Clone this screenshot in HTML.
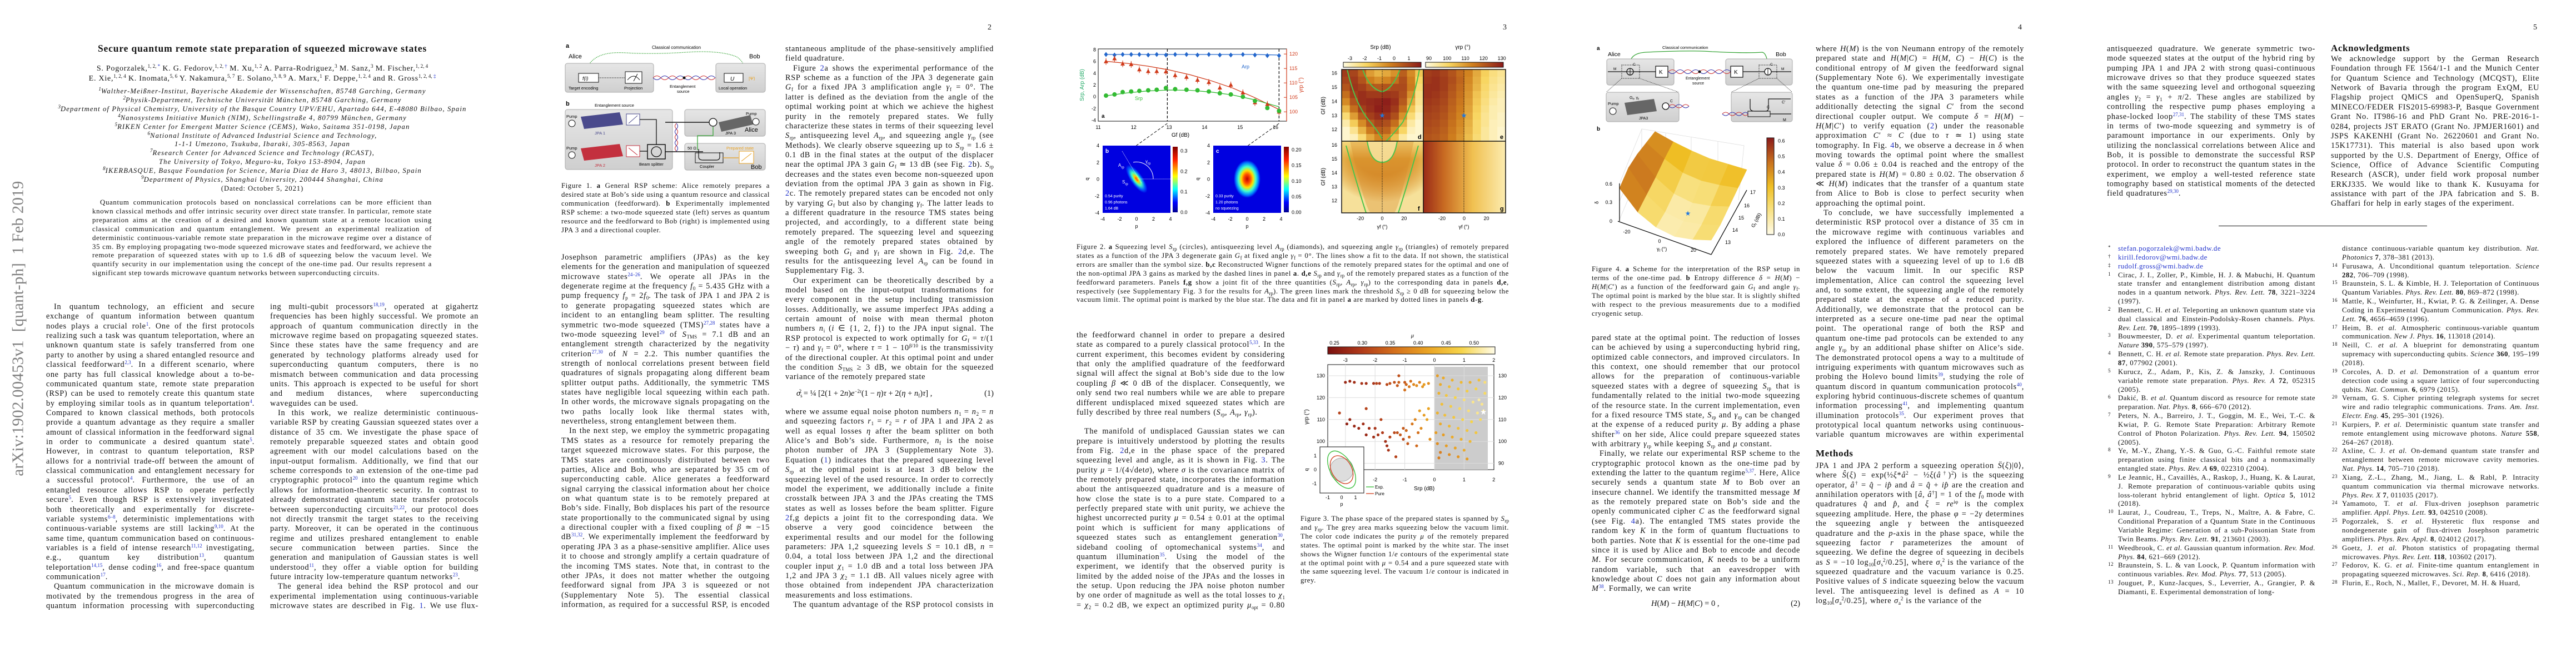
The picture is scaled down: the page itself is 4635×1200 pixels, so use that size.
<!DOCTYPE html>
<html><head><meta charset="utf-8">
<style>
html,body{margin:0;padding:0;background:#fff}
body{width:4635px;height:1200px;position:relative;overflow:hidden;font-family:"Liberation Serif",serif;color:#111}
.pg{position:absolute;top:0;width:927px;height:1200px;background:#fff}
.pn{position:absolute;left:850px;top:42px;font-size:14px}
.col{position:absolute;width:375px;font-size:14.3px;line-height:17.36px;letter-spacing:0.68px;word-spacing:0.6px;text-align:justify;overflow:hidden}
.col p{margin:0;text-indent:14px}
.col p.ni{text-indent:0}
.cap{position:absolute;font-size:12.8px;line-height:15.9px;letter-spacing:0.55px;text-align:justify;overflow:hidden}
.cap p{margin:0}
sup{font-size:9px;line-height:0;vertical-align:5px;color:#2233cc;letter-spacing:0}
sub{font-size:9px;line-height:0;vertical-align:-3px;letter-spacing:0}
.bl{color:#2233cc}
.ctr{position:absolute;left:0;width:944px;text-align:center;white-space:nowrap}
.aff{font-style:italic;font-size:12.6px;letter-spacing:1.15px;line-height:15.9px}
.refs{position:absolute;width:375px;font-size:12.8px;line-height:15.85px;letter-spacing:0.5px;text-align:justify;overflow:hidden}
.refs div{position:relative;padding-left:20px}
.refs div span.n{position:absolute;left:2px;top:-2px;font-size:9px}
svg text{font-family:"Liberation Sans",sans-serif}
</style></head>
<body>

<!-- ================= PAGE 1 ================= -->
<div class="pg" style="left:0">
  <div style="position:absolute;left:33px;top:591px;transform:translate(-50%,-50%) rotate(-90deg);white-space:nowrap;font-size:29px;color:#808080;letter-spacing:0.2px">arXiv:1902.00453v1&nbsp; [quant-ph]&nbsp; 1 Feb 2019</div>
  <div class="ctr" style="top:77px;font-weight:bold;font-size:17.5px;letter-spacing:0.85px">Secure quantum remote state preparation of squeezed microwave states</div>
  <div class="ctr" style="top:115px;font-size:14px;letter-spacing:0.75px;line-height:18px">S. Pogorzalek,<sup style="color:#111">1, 2, </sup><sup>*</sup> K. G. Fedorov,<sup style="color:#111">1, 2, </sup><sup>†</sup> M. Xu,<sup style="color:#111">1, 2</sup> A. Parra-Rodriguez,<sup style="color:#111">3</sup> M. Sanz,<sup style="color:#111">3</sup> M. Fischer,<sup style="color:#111">1, 2, 4</sup><br>E. Xie,<sup style="color:#111">1, 2, 4</sup> K. Inomata,<sup style="color:#111">5, 6</sup> Y. Nakamura,<sup style="color:#111">5, 7</sup> E. Solano,<sup style="color:#111">3, 8, 9</sup> A. Marx,<sup style="color:#111">1</sup> F. Deppe,<sup style="color:#111">1, 2, 4</sup> and R. Gross<sup style="color:#111">1, 2, 4, </sup><sup>‡</sup></div>
  <div class="ctr aff" style="top:157px">
    <sup style="color:#111">1</sup>Walther-Meißner-Institut, Bayerische Akademie der Wissenschaften, 85748 Garching, Germany<br>
    <sup style="color:#111">2</sup>Physik-Department, Technische Universität München, 85748 Garching, Germany<br>
    <sup style="color:#111">3</sup>Department of Physical Chemistry, University of the Basque Country UPV/EHU, Apartado 644, E-48080 Bilbao, Spain<br>
    <sup style="color:#111">4</sup>Nanosystems Initiative Munich (NIM), Schellingstraße 4, 80799 München, Germany<br>
    <sup style="color:#111">5</sup>RIKEN Center for Emergent Matter Science (CEMS), Wako, Saitama 351-0198, Japan<br>
    <sup style="color:#111">6</sup>National Institute of Advanced Industrial Science and Technology,<br>
    1-1-1 Umezono, Tsukuba, Ibaraki, 305-8563, Japan<br>
    <sup style="color:#111">7</sup>Research Center for Advanced Science and Technology (RCAST),<br>
    The University of Tokyo, Meguro-ku, Tokyo 153-8904, Japan<br>
    <sup style="color:#111">8</sup>IKERBASQUE, Basque Foundation for Science, Maria Diaz de Haro 3, 48013, Bilbao, Spain<br>
    <sup style="color:#111">9</sup>Department of Physics, Shanghai University, 200444 Shanghai, China<br>
    <span style="font-style:normal;letter-spacing:0.9px">(Dated: October 5, 2021)</span>
  </div>
  <div class="cap" style="left:166px;top:357px;width:611px;letter-spacing:0.7px">
    <p style="text-indent:14px">Quantum communication protocols based on nonclassical correlations can be more efficient than known classical methods and offer intrinsic security over direct state transfer. In particular, remote state preparation aims at the creation of a desired and known quantum state at a remote location using classical communication and quantum entanglement. We present an experimental realization of deterministic continuous-variable remote state preparation in the microwave regime over a distance of 35 cm. By employing propagating two-mode squeezed microwave states and feedforward, we achieve the remote preparation of squeezed states with up to 1.6 dB of squeezing below the vacuum level. We quantify security in our implementation using the concept of the one-time pad. Our results represent a significant step towards microwave quantum networks between superconducting circuits.</p>
  </div>
  <div class="col" style="left:83px;top:544px;height:556px">
    <p>In quantum technology, an efficient and secure exchange of quantum information between quantum nodes plays a crucial role<sup>1</sup>. One of the first protocols realizing such a task was quantum teleportation, where an unknown quantum state is safely transferred from one party to another by using a shared entangled resource and classical feedforward<sup>2,3</sup>. In a different scenario, where one party has full classical knowledge about a to-be-communicated quantum state, remote state preparation (RSP) can be used to remotely create this quantum state by employing similar tools as in quantum teleportation<sup>4</sup>. Compared to known classical methods, both protocols provide a quantum advantage as they require a smaller amount of classical information in the feedforward signal in order to communicate a desired quantum state<sup>5</sup>. However, in contrast to quantum teleportation, RSP allows for a nontrivial trade-off between the amount of classical communication and entanglement necessary for a successful protocol<sup>4</sup>. Furthermore, the use of an entangled resource allows RSP to operate perfectly secure<sup>5</sup>. Even though RSP is extensively investigated both theoretically and experimentally for discrete-variable systems<sup>6–8</sup>, deterministic implementations with continuous-variable systems are still lacking<sup>9,10</sup>. At the same time, quantum communication based on continuous-variables is a field of intense research<sup>11,12</sup> investigating, e.g., quantum key distribution<sup>13</sup>, quantum teleportation<sup>14,15</sup>, dense coding<sup>16</sup>, and free-space quantum communication<sup>17</sup>.</p>
    <p>Quantum communication in the microwave domain is motivated by the tremendous progress in the area of quantum information processing with superconducting circuits. In particular, the development of superconduct-</p>
  </div>
  <div class="col" style="left:486px;top:544px;height:556px">
    <p class="ni">ing multi-qubit processors<sup>18,19</sup>, operated at gigahertz frequencies has been highly successful. We promote an approach of quantum communication directly in the microwave regime based on propagating squeezed states. Since these states have the same frequency and are generated by technology platforms already used for superconducting quantum computers, there is no mismatch between communication and data processing units. This approach is expected to be useful for short and medium distances, where superconducting waveguides can be used.</p>
    <p>In this work, we realize deterministic continuous-variable RSP by creating Gaussian squeezed states over a distance of 35 cm. We investigate the phase space of remotely preparable squeezed states and obtain good agreement with our model calculations based on the input-output formalism. Additionally, we find that our scheme corresponds to an extension of the one-time pad cryptographic protocol<sup>20</sup> into the quantum regime which allows for information-theoretic security. In contrast to already demonstrated quantum state transfer protocols between superconducting circuits<sup>21,22</sup>, our protocol does not directly transmit the target states to the receiving party. Moreover, it can be operated in the continuous regime and utilizes preshared entanglement to enable secure communication between parties. Since the generation and manipulation of Gaussian states is well understood<sup>11</sup>, they offer a viable option for building future intracity low-temperature quantum networks<sup>23</sup>.</p>
    <p>The general idea behind the RSP protocol and our experimental implementation using continuous-variable microwave states are described in Fig. <span class="bl">1</span>. We use flux-driven</p>
  </div>
</div>

<!-- ================= PAGE 2 ================= -->
<div class="pg" style="left:927px">
  <div class="pn">2</div>
  <svg style="position:absolute;left:88px;top:72px" width="366" height="240" viewBox="0 0 366 240">
    <defs>
      <linearGradient id="gb" x1="0" y1="0" x2="0" y2="1"><stop offset="0" stop-color="#e6e6e6"/><stop offset="1" stop-color="#cfcfcf"/></linearGradient>
    </defs>
    <text x="3" y="14" font-size="11" font-weight="bold">a</text>
    <text x="158" y="16" font-size="8">Classical communication</text>
    <text x="8" y="33" font-size="11">Alice</text>
    <text x="333" y="33" font-size="11">Bob</text>
    <path d="M45 44 Q60 20 110 23 T220 22 T310 30 Q320 36 322 44" fill="none" stroke="#3aa63a" stroke-width="1.3" stroke-dasharray="1.5 1.5"/>
    <rect x="2" y="42" width="159" height="52" rx="4" fill="url(#gb)" stroke="#aaa"/>
    <rect x="273" y="42" width="89" height="52" rx="4" fill="url(#gb)" stroke="#aaa"/>
    <rect x="26" y="60" width="36" height="16" fill="#fff" stroke="#111"/><text x="33" y="72" font-size="9" font-style="italic">f(i)</text>
    <line x1="62" y1="68" x2="110" y2="68" stroke="#111" stroke-dasharray="1.5 1.5"/>
    <rect x="110" y="57" width="30" height="21" fill="#fff" stroke="#111"/><path d="M114 72 Q125 58 136 72" fill="none" stroke="#111"/><line x1="125" y1="74" x2="132" y2="61" stroke="#111"/>
    <path d="M160 68 q7 -7 14 0 t14 0 t14 0 t14 0 t14 0 t14 0 t14 0 t14 0" fill="none" stroke="#c33" stroke-width="1"/>
    <path d="M160 68 q7 7 14 0 t14 0 t14 0 t14 0 t14 0 t14 0 t14 0 t14 0" fill="none" stroke="#33a" stroke-width="1"/>
    <circle cx="216" cy="68" r="2.5" fill="#111"/>
    <rect x="288" y="60" width="34" height="16" fill="#fff" stroke="#111"/><text x="299" y="73" font-size="10" font-style="italic">U</text>
    <text x="332" y="72" font-size="8" fill="#e8a020">|Ψ⟩</text>
    <text x="8" y="89" font-size="7.5">Target encoding</text><text x="108" y="89" font-size="7.5">Projection</text>
    <text x="190" y="86" font-size="7.5">Entanglement</text><text x="203" y="95" font-size="7.5">source</text>
    <text x="278" y="89" font-size="7.5">Local operation</text>
    <text x="3" y="118" font-size="11" font-weight="bold">b</text>
    <text x="55" y="120" font-size="7.5">Entanglement source</text>
    <rect x="2" y="125" width="193" height="108" rx="4" fill="url(#gb)" stroke="#aaa"/>
    <rect x="217" y="125" width="145" height="48" rx="4" fill="url(#gb)" stroke="#aaa"/>
    <rect x="217" y="186" width="145" height="48" rx="4" fill="url(#gb)" stroke="#aaa"/>
    <text x="4" y="140" font-size="7.5">Pump</text><circle cx="14" cy="150" r="6" fill="#fff" stroke="#111"/>
    <polygon points="30,138 100,130 106,152 36,160" fill="#4a4a8c"/><text x="55" y="170" font-size="7.5" fill="#4a4a8c">JPA 1</text>
    <rect x="112" y="133" width="24" height="20" fill="#fff" stroke="#4a4a8c"/><line x1="116" y1="150" x2="132" y2="136" stroke="#4a4a8c"/>
    <text x="4" y="197" font-size="7.5">Pump</text><circle cx="14" cy="207" r="6" fill="#fff" stroke="#111"/>
    <polygon points="30,195 100,187 106,209 36,217" fill="#c3303e"/><text x="55" y="228" font-size="7.5" fill="#c3303e">JPA 2</text>
    <rect x="112" y="190" width="24" height="20" fill="#fff" stroke="#c3303e"/><line x1="116" y1="194" x2="132" y2="207" stroke="#c3303e"/>
    <rect x="150" y="188" width="32" height="26" fill="none" stroke="#111" stroke-width="1.5"/><circle cx="166" cy="201" r="9" fill="none" stroke="#111" stroke-width="1.3"/>
    <text x="135" y="226" font-size="7.5">Beam splitter</text>
    <polyline points="136,143 166,143 166,188" fill="none" stroke="#111" stroke-width="1.3"/>
    <polyline points="136,200 150,200" fill="none" stroke="#111" stroke-width="1.3"/>
    <line x1="182" y1="148" x2="262" y2="148" stroke="#111" stroke-width="1.5"/>
    <line x1="182" y1="201" x2="250" y2="201" stroke="#111" stroke-width="1.5"/>
    <path d="M202 150 q-5 5 0 10 t0 10 t0 10 t0 10 t0 10" fill="none" stroke="#c33"/><path d="M202 150 q5 5 0 10 t0 10 t0 10 t0 10 t0 10" fill="none" stroke="#33a"/>
    <circle cx="268" cy="148" r="7" fill="#fff" stroke="#111" stroke-width="1.3"/>
    <polygon points="278,148 335,135 340,152 283,165" fill="#666"/><text x="290" y="170" font-size="7.5">JPA 3</text>
    <text x="327" y="135" font-size="7.5">Pump</text><circle cx="345" cy="147" r="6" fill="#fff" stroke="#111"/>
    <text x="325" y="165" font-size="11">Alice</text>
    <polyline points="268,156 268,172 240,172 240,198" fill="none" stroke="#3aa63a" stroke-width="1.3"/>
    <text x="222" y="197" font-size="7.5">50 Ω</text>
    <rect x="236" y="203" width="50" height="18" fill="none" stroke="#111"/><path d="M242 196 v14 q0 6 8 6 h24 q6 0 6 -6 v-8" fill="none" stroke="#111" stroke-width="1.2"/>
    <text x="244" y="230" font-size="7.5">Coupler</text>
    <text x="292" y="197" font-size="7.5" fill="#e8a020">Prepared state</text>
    <line x1="286" y1="212" x2="314" y2="212" stroke="#e8a020" stroke-width="1.3"/>
    <rect x="315" y="200" width="26" height="22" fill="#fff" stroke="#e8a020"/><line x1="319" y1="218" x2="337" y2="204" stroke="#e8a020"/>
    <text x="336" y="232" font-size="11">Bob</text>
  </svg>
  <div class="cap" style="left:83px;top:327px;width:375px">
    <p>Figure 1. <b>a</b> General RSP scheme: Alice remotely prepares a desired state at Bob’s side using a quantum resource and classical communication (feedforward). <b>b</b> Experimentally implemented RSP scheme: a two-mode squeezed state (left) serves as quantum resource and the feedforward to Bob (right) is implemented using JPA 3 and a directional coupler.</p>
  </div>
  <div class="col" style="left:83px;top:455px;height:643px">
    <p class="ni">Josephson parametric amplifiers (JPAs) as the key elements for the generation and manipulation of squeezed microwave states<sup>24–26</sup>. We operate all JPAs in the degenerate regime at the frequency <i>f</i><sub>0</sub> = 5.435 GHz with a pump frequency <i>f</i><sub>p</sub> = 2<i>f</i><sub>0</sub>. The task of JPA 1 and JPA 2 is to generate propagating squeezed states which are incident to an entangling beam splitter. The resulting symmetric two-mode squeezed (TMS)<sup>27,28</sup> states have a two-mode squeezing level<sup>29</sup> of <i>S</i><sub>TMS</sub> = 7.1 dB and an entanglement strength characterized by the negativity criterion<sup>27,30</sup> of <i>N</i> = 2.2. This number quantifies the strength of nonlocal correlations present between field quadratures of signals propagating along different beam splitter output paths. Additionally, the symmetric TMS states have negligible local squeezing within each path. In other words, the microwave signals propagating on the two paths locally look like thermal states with, nevertheless, strong entanglement between them.</p>
    <p>In the next step, we employ the symmetric propagating TMS states as a resource for remotely preparing the target squeezed microwave states. For this purpose, the TMS states are continuously distributed between two parties, Alice and Bob, who are separated by 35 cm of superconducting cable. Alice generates a feedforward signal carrying the classical information about her choice on what quantum state is to be remotely prepared at Bob’s side. Finally, Bob displaces his part of the resource state proportionally to the communicated signal by using a directional coupler with a fixed coupling of <i>β</i> ≃ −15 dB<sup>31,32</sup>. We experimentally implement the feedforward by operating JPA 3 as a phase-sensitive amplifier. Alice uses it to choose and strongly amplify a certain quadrature of the incoming TMS states. Note that, in contrast to the other JPAs, it does not matter whether the outgoing feedforward signal from JPA 3 is squeezed or not (Supplementary Note 5). The essential classical information, as required for a successful RSP, is encoded in the large in-</p>
  </div>
  <div class="col" style="left:486px;top:80px;height:608px">
    <p class="ni">stantaneous amplitude of the phase-sensitively amplified field quadrature.</p>
    <p>Figure <span class="bl">2</span>a shows the experimental performance of the RSP scheme as a function of the JPA 3 degenerate gain <i>G</i><sub>f</sub> for a fixed JPA 3 amplification angle <i>γ</i><sub>f</sub> = 0°. The latter is defined as the deviation from the angle of the optimal working point at which we achieve the highest purity in the remotely prepared states. We fully characterize these states in terms of their squeezing level <i>S</i><sub>rp</sub>, antisqueezing level <i>A</i><sub>rp</sub>, and squeezing angle <i>γ</i><sub>rp</sub> (see Methods). We clearly observe squeezing up to <i>S</i><sub>rp</sub> = 1.6 ± 0.1 dB in the final states at the output of the displacer near the optimal JPA 3 gain <i>G</i><sub>f</sub> ≃ 13 dB (see Fig. <span class="bl">2</span>b). <i>S</i><sub>rp</sub> decreases and the states even become non-squeezed upon deviation from the optimal JPA 3 gain as shown in Fig. <span class="bl">2</span>c. The remotely prepared states can be encoded not only by varying <i>G</i><sub>f</sub> but also by changing <i>γ</i><sub>f</sub>. The latter leads to a different quadrature in the resource TMS states being projected, and accordingly, to a different state being remotely prepared. The squeezing level and squeezing angle of the remotely prepared states obtained by sweeping both <i>G</i><sub>f</sub> and <i>γ</i><sub>f</sub> are shown in Fig. <span class="bl">2</span>d,e. The results for the antisqueezing level <i>A</i><sub>rp</sub> can be found in Supplementary Fig. 3.</p>
    <p>Our experiment can be theoretically described by a model based on the input-output transformations for every component in the setup including transmission losses. Additionally, we assume imperfect JPAs adding a certain amount of noise with mean thermal photon numbers <i>n</i><sub>i</sub> (<i>i</i> ∈ {1, 2, f}) to the JPA input signal. The RSP protocol is expected to work optimally for <i>G</i><sub>f</sub> = <i>τ</i>/(1 − <i>τ</i>) and <i>γ</i><sub>f</sub> = 0°, where <i>τ</i> = 1 − 10<sup style="color:#111">β/10</sup> is the transmissivity of the directional coupler. At this optimal point and under the condition <i>S</i><sub>TMS</sub> ≥ 3 dB, we obtain for the squeezed variance of the remotely prepared state</p>
  </div>
  <div style="position:absolute;left:506px;top:700px;width:355px;font-size:14.5px;white-space:nowrap"><i>σ</i><sub>s</sub><sup style="color:#111;margin-left:-6px">2</sup> = ¼ [2(1 + 2<i>n</i>)<i>e</i><sup style="color:#111">−2r</sup>(1 − <i>η</i>)<i>τ</i> + 2(<i>η</i> + <i>n</i><sub>f</sub>)<i>τ</i>] ,<span style="position:absolute;right:0">(1)</span></div>
  <div class="col" style="left:486px;top:733px;height:365px">
    <p class="ni">where we assume equal noise photon numbers <i>n</i><sub>1</sub> = <i>n</i><sub>2</sub> = <i>n</i> and squeezing factors <i>r</i><sub>1</sub> = <i>r</i><sub>2</sub> = <i>r</i> of JPA 1 and JPA 2 as well as equal losses <i>η</i> after the beam splitter on both Alice’s and Bob’s side. Furthermore, <i>n</i><sub>f</sub> is the noise photon number of JPA 3 (Supplementary Note 3). Equation (<span class="bl">1</span>) indicates that the prepared squeezing level <i>S</i><sub>rp</sub> at the optimal point is at least 3 dB below the squeezing level of the used resource. In order to correctly model the experiment, we additionally include a finite crosstalk between JPA 3 and the JPAs creating the TMS states as well as losses before the beam splitter. Figure <span class="bl">2</span>f,g depicts a joint fit to the corresponding data. We observe a very good coincidence between the experimental results and our model for the following parameters: JPA 1,2 squeezing levels <i>S</i> = 10.1 dB, <i>n</i> = 0.04, a total loss between JPA 1,2 and the directional coupler input <i>χ</i><sub>1</sub> = 1.0 dB and a total loss between JPA 1,2 and JPA 3 <i>χ</i><sub>2</sub> = 1.1 dB. All values nicely agree with those obtained from independent JPA characterization measurements and loss estimations.</p>
    <p>The quantum advantage of the RSP protocol consists in a smaller amount of classical information sent through</p>
  </div>
</div>

<!-- ================= PAGE 3 ================= -->
<div class="pg" style="left:1854px">
  <div class="pn">3</div>
  <svg id="fig2" style="position:absolute;left:0;top:0" width="927" height="420" viewBox="0 0 927 420">
    <defs>
      <linearGradient id="jet" x1="0" y1="1" x2="0" y2="0">
        <stop offset="0" stop-color="#00008f"/><stop offset="0.15" stop-color="#0000ff"/><stop offset="0.35" stop-color="#00ffff"/><stop offset="0.55" stop-color="#ffff00"/><stop offset="0.8" stop-color="#ff2000"/><stop offset="1" stop-color="#800000"/>
      </linearGradient>
      <radialGradient id="wb" cx="0.5" cy="0.5" r="0.5">
        <stop offset="0" stop-color="#ff2000"/><stop offset="0.2" stop-color="#ffd000"/><stop offset="0.45" stop-color="#40ffc0"/><stop offset="0.75" stop-color="#0060ff"/><stop offset="1" stop-color="#0000e0"/>
      </radialGradient>
      <radialGradient id="wc" cx="0.5" cy="0.5" r="0.5">
        <stop offset="0" stop-color="#c00000"/><stop offset="0.25" stop-color="#ff5000"/><stop offset="0.45" stop-color="#ffe000"/><stop offset="0.65" stop-color="#40ffd0"/><stop offset="0.85" stop-color="#0080ff"/><stop offset="1" stop-color="#0000e0"/>
      </radialGradient>
      <linearGradient id="cbS" x1="0" y1="0" x2="1" y2="0"><stop offset="0" stop-color="#fffbe0"/><stop offset="0.3" stop-color="#f8d560"/><stop offset="0.6" stop-color="#d0801e"/><stop offset="1" stop-color="#8a1a1a"/></linearGradient>
      <linearGradient id="gF" x1="0" y1="0" x2="0" y2="1"><stop offset="0" stop-color="#f7dc80"/><stop offset="0.25" stop-color="#dc9a30"/><stop offset="1" stop-color="#c77020"/></linearGradient>
      <linearGradient id="gG" x1="0" y1="0" x2="1" y2="0"><stop offset="0" stop-color="#9a2a18"/><stop offset="0.25" stop-color="#c86a22"/><stop offset="0.6" stop-color="#f0c050"/><stop offset="1" stop-color="#fcecb0"/></linearGradient>
      <radialGradient id="fside" cx="0.5" cy="0.1" r="0.75"><stop offset="0.5" stop-color="#f5d06a" stop-opacity="0"/><stop offset="1" stop-color="#f8e6a0" stop-opacity="0.95"/></radialGradient>
    </defs>
    <g id="fig2a"></g>
    <g>
      <rect x="130" y="262" width="122" height="121" fill="#0000e0"/>
      <ellipse cx="191" cy="322" rx="11" ry="30" transform="rotate(-35 191 322)" fill="url(#wb)"/>
      <line x1="165" y1="272" x2="200" y2="330" stroke="#fff" stroke-width="0.8" stroke-dasharray="1 1"/>
      <line x1="191" y1="322" x2="252" y2="322" stroke="#fff" stroke-width="0.8" stroke-dasharray="1 1"/>
      <path d="M185 292 A30 30 0 0 1 221 322" fill="none" stroke="#fff"/>
      <text x="135" y="275" font-size="10" fill="#fff" font-weight="bold">b</text>
      <text x="158" y="300" font-size="8" fill="#fff">A<tspan font-size="6" dy="3">rp</tspan></text>
      <text x="207" y="293" font-size="8" fill="#fff">γ<tspan font-size="6" dy="3">rp</tspan></text>
      <text x="165" y="330" font-size="8" fill="#fff">S<tspan font-size="6" dy="3">rp</tspan></text>
      <text x="134" y="355" font-size="7" fill="#fff">0.54 purity</text><text x="134" y="366" font-size="7" fill="#fff">0.96 photons</text><text x="134" y="377" font-size="7" fill="#fff">1.64 dB</text>
      <rect x="256" y="264" width="9" height="118" fill="url(#jet)"/>
    </g>
    <g>
      <rect x="329" y="262" width="122" height="121" fill="#0000e0"/>
      <ellipse cx="390" cy="322" rx="24" ry="34" fill="url(#wc)"/>
      <text x="334" y="275" font-size="10" fill="#fff" font-weight="bold">c</text>
      <text x="333" y="355" font-size="7" fill="#fff">0.33 purity</text><text x="333" y="366" font-size="7" fill="#fff">1.20 photons</text><text x="333" y="377" font-size="7" fill="#fff">no squeezing</text>
      <rect x="456" y="264" width="9" height="118" fill="url(#jet)"/>
    </g>
    <g id="wigAxes" font-size="9"></g>
    <g id="hmD"></g><g id="hmE"></g>
    <rect x="560" y="254" width="147" height="129" fill="url(#gF)"/>
    <rect x="560" y="254" width="147" height="129" fill="url(#fside)"/>
    <path d="M575 254 Q600 370 612 383 L655 383 Q665 370 690 254" fill="#d68a2a" opacity="0.35"/>
    <path d="M606 254 Q612 292 633 292 Q654 292 660 254" fill="#f7e09a" opacity="0.9"/>
    <path d="M606 254 Q612 292 633 292 Q654 292 660 254" fill="none" stroke="#4cc44c" stroke-width="2"/>
    <path d="M568 262 Q590 340 604 383 M698 262 Q676 340 662 383" fill="none" stroke="#4cc44c" stroke-width="2"/>
    <rect x="707" y="254" width="148" height="129" fill="url(#gG)"/>
    <g id="dgAxes"></g>
  </svg>
  <div class="cap" style="left:83px;top:437px;width:778px;letter-spacing:0.62px">
    <p>Figure 2. <b>a</b> Squeezing level <i>S</i><sub>rp</sub> (circles), antisqueezing level <i>A</i><sub>rp</sub> (diamonds), and squeezing angle <i>γ</i><sub>rp</sub> (triangles) of remotely prepared states as a function of the JPA 3 degenerate gain <i>G</i><sub>f</sub> at fixed angle <i>γ</i><sub>f</sub> = 0°. The lines show a fit to the data. If not shown, the statistical errors are smaller than the symbol size. <b>b,c</b> Reconstructed Wigner functions of the remotely prepared states for the optimal and one of the non-optimal JPA 3 gains as marked by the dashed lines in panel <b>a</b>. <b>d,e</b> <i>S</i><sub>rp</sub> and <i>γ</i><sub>rp</sub> of the remotely prepared states as a function of the feedforward parameters. Panels <b>f,g</b> show a joint fit of the three quantities (<i>S</i><sub>rp</sub>, <i>A</i><sub>rp</sub>, <i>γ</i><sub>rp</sub>) to the corresponding data in panels <b>d,e</b>, respectively (see Supplementary Fig. 3 for the results for <i>A</i><sub>rp</sub>). The green lines mark the threshold <i>S</i><sub>rp</sub> ≥ 0 dB for squeezing below the vacuum limit. The optimal point is marked by the blue star. The data and fit in panel <b>a</b> are marked by dotted lines in panels <b>d</b>-<b>g</b>.</p>
  </div>
  <div class="col" style="left:83px;top:595px;height:503px">
    <p class="ni">the feedforward channel in order to prepare a desired state as compared to a purely classical protocol<sup>5,33</sup>. In the current experiment, this becomes evident by considering that only the amplified quadrature of the feedforward signal will affect the signal at Bob’s side due to the low coupling <i>β</i> ≪ 0 dB of the displacer. Consequently, we only send two real numbers while we are able to prepare different undisplaced mixed squeezed states which are fully described by three real numbers (<i>S</i><sub>rp</sub>, <i>A</i><sub>rp</sub>, <i>γ</i><sub>rp</sub>).</p>
    <p style="margin-top:17px">The manifold of undisplaced Gaussian states we can prepare is intuitively understood by plotting the results from Fig. <span class="bl">2</span>d,e in the phase space of the prepared squeezing level and angle, as it is shown in Fig. <span class="bl">3</span>. The purity <i>μ</i> = 1/(4√det<i>σ</i>), where <i>σ</i> is the covariance matrix of the remotely prepared state, incorporates the information about the antisqueezed quadrature and is a measure of how close the state is to a pure state. Compared to a perfectly prepared state with unit purity, we achieve the highest uncorrected purity <i>μ</i> = 0.54 ± 0.01 at the optimal point which is sufficient for many applications of squeezed states such as entanglement generation<sup>30</sup>, sideband cooling of optomechanical systems<sup>34</sup>, and quantum illumination<sup>35</sup>. Using the model of the experiment, we identify that the observed purity is limited by the added noise of the JPAs and the losses in the setup. Upon reducing the JPA noise photon number by one order of magnitude as well as the total losses to <i>χ</i><sub>1</sub> = <i>χ</i><sub>2</sub> = 0.2 dB, we expect an optimized purity <i>μ</i><sub>opt</sub> = 0.80 for the pre-</p>
  </div>
  <svg id="fig3" style="position:absolute;left:480px;top:590px" width="400" height="330" viewBox="480 590 400 330">
    <defs>
      <linearGradient id="cbMu" x1="0" y1="0" x2="1" y2="0"><stop offset="0" stop-color="#7a1010"/><stop offset="0.2" stop-color="#b03a1a"/><stop offset="0.4" stop-color="#d4701c"/><stop offset="0.6" stop-color="#eaa424"/><stop offset="0.8" stop-color="#f6d44a"/><stop offset="1" stop-color="#fffce8"/></linearGradient>
    </defs>
    <g id="fig3g"></g>
  </svg>
  <div class="cap" style="left:486px;top:926px;width:375px">
    <p>Figure 3. The phase space of the prepared states is spanned by <i>S</i><sub>rp</sub> and <i>γ</i><sub>rp</sub>. The grey area marks squeezing below the vacuum limit. The color code indicates the purity <i>μ</i> of the remotely prepared states. The optimal point is marked by the white star. The inset shows the Wigner function 1/<i>e</i> contours of the experimental state at the optimal point with <i>μ</i> = 0.54 and a pure squeezed state with the same squeezing level. The vacuum 1/<i>e</i> contour is indicated in grey.</p>
  </div>
</div>

<!-- ================= PAGE 4 ================= -->
<div class="pg" style="left:2781px">
  <div class="pn">4</div>
  <svg style="position:absolute;left:0;top:60px" width="460" height="165" viewBox="0 0 460 165">
    <defs><linearGradient id="gb4" x1="0" y1="0" x2="0" y2="1"><stop offset="0" stop-color="#e6e6e6"/><stop offset="1" stop-color="#cfcfcf"/></linearGradient></defs>
    <text x="92" y="30" font-size="10" font-weight="bold">a</text>
    <text x="210" y="28" font-size="7.5">Classical communication</text>
    <text x="112" y="41" font-size="10.5">Alice</text><text x="414" y="41" font-size="10.5">Bob</text>
    <path d="M152 58 Q150 36 180 34 Q260 30 300 33 Q360 36 390 34 Q398 36 400 58" fill="none" stroke="#3aa63a" stroke-width="1.3"/>
    <rect x="110" y="46" width="121" height="47" rx="4" fill="url(#gb4)" stroke="#aaa"/>
    <rect x="324" y="46" width="120" height="47" rx="4" fill="url(#gb4)" stroke="#aaa"/>
    <rect x="137" y="57" width="32" height="24" fill="none" stroke="#111" stroke-dasharray="1.5 1.5"/>
    <line x1="112" y1="69" x2="146" y2="69" stroke="#111" stroke-width="1.2"/><circle cx="152" cy="69" r="6" fill="none" stroke="#111" stroke-width="1.3"/><line x1="146" y1="69" x2="158" y2="69" stroke="#111"/><line x1="152" y1="63" x2="152" y2="75" stroke="#111"/>
    <line x1="158" y1="69" x2="198" y2="69" stroke="#111" stroke-width="1.2"/>
    <rect x="198" y="59" width="22" height="20" fill="#fff" stroke="#111" stroke-width="1.2"/><text x="204" y="73" font-size="10">K</text>
    <text x="122" y="66" font-size="6.5">M</text><text x="157" y="58" font-size="6.5">C</text>
    <path d="M221 69 q7 -7 14 0 t14 0 t14 0 t14 0 t14 0 t14 0 t14 0 t14 0" fill="none" stroke="#c33"/>
    <path d="M221 69 q7 7 14 0 t14 0 t14 0 t14 0 t14 0 t14 0 t14 0 t14 0" fill="none" stroke="#33a"/>
    <circle cx="277" cy="69" r="2.5" fill="#111"/>
    <text x="252" y="83" font-size="7">Entanglement</text><text x="264" y="92" font-size="7">source</text>
    <rect x="333" y="59" width="22" height="20" fill="#fff" stroke="#111" stroke-width="1.2"/><text x="339" y="73" font-size="10">K</text>
    <rect x="384" y="57" width="32" height="24" fill="none" stroke="#111" stroke-dasharray="1.5 1.5"/>
    <line x1="355" y1="69" x2="442" y2="69" stroke="#111" stroke-width="1.2"/><circle cx="400" cy="69" r="6" fill="#fff" stroke="#111" stroke-width="1.3"/><line x1="400" y1="63" x2="400" y2="75" stroke="#111"/>
    <text x="424" y="66" font-size="6.5">M</text><text x="404" y="58" font-size="6.5">C</text>
    <rect x="109" y="106" width="131" height="53" rx="4" fill="url(#gb4)" stroke="#aaa"/>
    <rect x="334" y="106" width="110" height="53" rx="4" fill="url(#gb4)" stroke="#aaa"/>
    <line x1="137" y1="81" x2="109" y2="106" stroke="#111" stroke-dasharray="1 1.5"/><line x1="169" y1="81" x2="240" y2="106" stroke="#111" stroke-dasharray="1 1.5"/>
    <line x1="384" y1="81" x2="334" y2="106" stroke="#111" stroke-dasharray="1 1.5"/><line x1="416" y1="81" x2="444" y2="106" stroke="#111" stroke-dasharray="1 1.5"/>
    <text x="112" y="129" font-size="7.5">Pump</text><circle cx="121" cy="140" r="6" fill="#fff" stroke="#111"/>
    <polygon points="142,125 195,118 200,140 147,147" fill="#666"/><text x="168" y="155" font-size="7">JPA3</text>
    <text x="151" y="118" font-size="7.5">G<tspan font-size="5.5" dy="2">f</tspan><tspan dy="-2">, γ</tspan><tspan font-size="5.5" dy="2">f</tspan></text>
    <circle cx="216" cy="131" r="6" fill="#fff" stroke="#111" stroke-width="1.3"/><text x="224" y="124" font-size="7">C</text>
    <path d="M222 131 q6 -6 12 0 t12 0 t12 0" fill="none" stroke="#c33"/><path d="M222 131 q6 6 12 0 t12 0 t12 0" fill="none" stroke="#33a"/>
    <rect x="364" y="140" width="40" height="10" fill="none" stroke="#111"/><path d="M368 118 v16 q0 6 8 6 h20 q5 0 5 -6 v-16 h40" fill="none" stroke="#111" stroke-width="1.2"/>
    <line x1="404" y1="145" x2="442" y2="145" stroke="#111" stroke-width="1.2"/>
    <text x="425" y="126" font-size="7">C′</text><text x="427" y="158" font-size="7">M</text><text x="398" y="135" font-size="7">C</text>
    <path d="M318 145 q6 -6 12 0 t12 0 t12 0 t10 0" fill="none" stroke="#c33"/><path d="M318 145 q6 6 12 0 t12 0 t12 0 t10 0" fill="none" stroke="#33a"/>
  </svg>
  <svg id="fig4b" style="position:absolute;left:0;top:220px" width="460" height="240" viewBox="0 220 460 240">
    <defs>
      <linearGradient id="cbD" x1="0" y1="1" x2="0" y2="0"><stop offset="0" stop-color="#fffbe8"/><stop offset="0.3" stop-color="#f7dc70"/><stop offset="0.5" stop-color="#efbe24"/><stop offset="0.75" stop-color="#c7701e"/><stop offset="1" stop-color="#8a1a1a"/></linearGradient>
    </defs>
    <text x="92" y="235" font-size="10" font-weight="bold">b</text>
    <g stroke="#ddd" stroke-width="0.8" fill="none">
      <polyline points="133,330 173,232 357,262 347,360"/>
      <line x1="173" y1="232" x2="173" y2="315"/><line x1="216" y1="240" x2="216" y2="300"/><line x1="262" y1="247" x2="262" y2="300"/><line x1="310" y1="254" x2="310" y2="310"/>
      <line x1="133" y1="362" x2="173" y2="270"/><line x1="133" y1="395" x2="173" y2="300"/>
    </g>
    <g id="surf"></g>
    <g stroke="#111" stroke-width="1.3" fill="none">
      <line x1="133" y1="330" x2="133" y2="398"/><line x1="130" y1="398" x2="298" y2="458"/><line x1="298" y1="458" x2="362" y2="342"/>
    </g>
    <text x="120" y="334" font-size="9" text-anchor="end">0.6</text><text x="120" y="367" font-size="9" text-anchor="end">0.3</text><text x="120" y="401" font-size="9" text-anchor="end">0</text>
    <text x="95" y="367" font-size="9" transform="rotate(-90 95 367)">δ</text>
    <text x="146" y="420" font-size="9" text-anchor="middle">-20</text><text x="205" y="437" font-size="9" text-anchor="middle">0</text><text x="266" y="453" font-size="9" text-anchor="middle">20</text>
    <text x="200" y="451" font-size="9">γ<tspan font-size="6" dy="2">f</tspan><tspan dy="-2"> (°)</tspan></text>
    <text x="368" y="349" font-size="9">17</text><text x="357" y="373" font-size="9">16</text><text x="347" y="395" font-size="9">15</text><text x="336" y="417" font-size="9">14</text><text x="323" y="439" font-size="9">13</text>
    <text x="375" y="410" font-size="9" transform="rotate(-62 375 410)">G<tspan font-size="6" dy="2">f</tspan><tspan dy="-2"> (dB)</tspan></text>
    <rect x="398" y="248" width="13" height="174" fill="url(#cbD)" stroke="#111"/>
    <g id="cbDticks" font-size="9"></g>
  </svg>
  <div class="cap" style="left:83px;top:477px;width:375px">
    <p>Figure 4. <b>a</b> Scheme for the interpretation of the RSP setup in terms of the one-time pad. <b>b</b> Entropy difference <i>δ</i> = <i>H</i>(<i>M</i>) − <i>H</i>(<i>M</i>|<i>C</i>′) as a function of the feedforward gain <i>G</i><sub>f</sub> and angle <i>γ</i><sub>f</sub>. The optimal point is marked by the blue star. It is slightly shifted with respect to the previous measurements due to a modified cryogenic setup.</p>
  </div>
  <div class="col" style="left:83px;top:600px;height:470px">
    <p class="ni">pared state at the optimal point. The reduction of losses can be achieved by using a superconducting hybrid ring, optimized cable connectors, and improved circulators. In this context, one should remember that our protocol allows for the preparation of continuous-variable squeezed states with a degree of squeezing <i>S</i><sub>rp</sub> that is fundamentally related to the initial two-mode squeezing of the resource state. In the current implementation, even for a fixed resource TMS state, <i>S</i><sub>rp</sub> and <i>γ</i><sub>rp</sub> can be changed at the expense of a reduced purity <i>μ</i>. By adding a phase shifter<sup>36</sup> on her side, Alice could prepare squeezed states with arbitrary <i>γ</i><sub>rp</sub> while keeping <i>S</i><sub>rp</sub> and <i>μ</i> constant.</p>
    <p>Finally, we relate our experimental RSP scheme to the cryptographic protocol known as the one-time pad by extending the latter to the quantum regime<sup>5,37</sup>. Here, Alice securely sends a quantum state <i>M</i> to Bob over an insecure channel. We identify the transmitted message <i>M</i> as the remotely prepared state on Bob’s side and the openly communicated cipher <i>C</i> as the feedforward signal (see Fig. <span class="bl">4</span>a). The entangled TMS states provide the random key <i>K</i> in the form of quantum fluctuations to both parties. Note that <i>K</i> is essential for the one-time pad since it is used by Alice and Bob to encode and decode <i>M</i>. For secure communication, <i>K</i> needs to be a uniform random variable, such that an eavesdropper with knowledge about <i>C</i> does not gain any information about <i>M</i><sup>38</sup>. Formally, we can write</p>
  </div>
  <div style="position:absolute;left:190px;top:1078px;width:268px;font-size:14.5px;white-space:nowrap"><i>H</i>(<i>M</i>) − <i>H</i>(<i>M</i>|<i>C</i>) = 0 ,<span style="position:absolute;right:0">(2)</span></div>
  <div class="col" style="left:486px;top:80px;height:712px">
    <p class="ni">where <i>H</i>(<i>M</i>) is the von Neumann entropy of the remotely prepared state and <i>H</i>(<i>M</i>|<i>C</i>) = <i>H</i>(<i>M</i>, <i>C</i>) − <i>H</i>(<i>C</i>) is the conditional entropy of <i>M</i> given the feedforward signal (Supplementary Note 6). We experimentally investigate the quantum one-time pad by measuring the prepared states as a function of the JPA 3 parameters while additionally detecting the signal <i>C</i>′ from the second directional coupler output. We compute <i>δ</i> = <i>H</i>(<i>M</i>) − <i>H</i>(<i>M</i>|<i>C</i>′) to verify equation (<span class="bl">2</span>) under the reasonable approximation <i>C</i>′ ≈ <i>C</i> (due to <i>τ</i> ≃ 1) using state tomography. In Fig. <span class="bl">4</span>b, we observe a decrease in <i>δ</i> when moving towards the optimal point where the smallest value <i>δ</i> = 0.06 ± 0.04 is reached and the entropy of the prepared state is <i>H</i>(<i>M</i>) = 0.80 ± 0.02. The observation <i>δ</i> ≪ <i>H</i>(<i>M</i>) indicates that the transfer of a quantum state from Alice to Bob is close to perfect security when approaching the optimal point.</p>
    <p>To conclude, we have successfully implemented a deterministic RSP protocol over a distance of 35 cm in the microwave regime with continuous variables and explored the influence of different parameters on the remotely prepared states. We have remotely prepared squeezed states with a squeezing level of up to 1.6 dB below the vacuum limit. In our specific RSP implementation, Alice can control the squeezing level and, to some extent, the squeezing angle of the remotely prepared state at the expense of a reduced purity. Additionally, we demonstrate that the protocol can be interpreted as a secure one-time pad near the optimal point. The operational range of both the RSP and quantum one-time pad protocols can be extended to any angle <i>γ</i><sub>rp</sub> by an additional phase shifter on Alice’s side. The demonstrated protocol opens a way to a multitude of intriguing experiments with quantum microwaves such as probing the Holevo bound limits<sup>39</sup>, studying the role of quantum discord in quantum communication protocols<sup>40</sup>, exploring hybrid continuous-discrete schemes of quantum information processing<sup>41</sup>, and implementing quantum illumination protocols<sup>35</sup>. Our experiment proves that prototypical local quantum networks using continuous-variable quantum microwaves are within experimental reach.</p>
  </div>
  <div style="position:absolute;left:486px;top:806px;font-weight:bold;font-size:17px;letter-spacing:0.6px">Methods</div>
  <div class="col" style="left:486px;top:830px;height:268px">
    <p class="ni">JPA 1 and JPA 2 perform a squeezing operation <i>Ŝ</i>(<i>ξ</i>)|0⟩, where <i>Ŝ</i>(<i>ξ</i>) = exp(½<i>ξ</i>*<i>â</i><sup style="color:#111">2</sup> − ½<i>ξ</i>(<i>â</i><sup style="color:#111">†</sup>)<sup style="color:#111">2</sup>) is the squeezing operator, <i>â</i><sup style="color:#111">†</sup> = <i>q̂</i> − <i>ip̂</i> and <i>â</i> = <i>q̂</i> + <i>ip̂</i> are the creation and annihilation operators with [<i>â</i>, <i>â</i><sup style="color:#111">†</sup>] = 1 of the <i>f</i><sub>0</sub> mode with quadratures <i>q̂</i> and <i>p̂</i>, and <i>ξ</i> = <i>re</i><sup style="color:#111">iφ</sup> is the complex squeezing amplitude. Here, the phase <i>φ</i> = −2<i>γ</i> determines the squeezing angle <i>γ</i> between the antisqueezed quadrature and the <i>p</i>-axis in the phase space, while the squeezing factor <i>r</i> parameterizes the amount of squeezing. We define the degree of squeezing in decibels as <i>S</i> = −10 log<sub>10</sub>[<i>σ</i><sub>s</sub><sup style="color:#111">2</sup>/0.25], where <i>σ</i><sub>s</sub><sup style="color:#111">2</sup> is the variance of the squeezed quadrature and the vacuum variance is 0.25. Positive values of <i>S</i> indicate squeezing below the vacuum level. The antisqueezing level is defined as <i>A</i> = 10 log<sub>10</sub>[<i>σ</i><sub>a</sub><sup style="color:#111">2</sup>/0.25], where <i>σ</i><sub>a</sub><sup style="color:#111">2</sup> is the variance of the</p>
  </div>
</div>

<!-- ================= PAGE 5 ================= -->
<div class="pg" style="left:3708px">
  <div class="pn">5</div>
  <div class="col" style="left:83px;top:80px;height:280px">
    <p class="ni">antisqueezed quadrature. We generate symmetric two-mode squeezed states at the output of the hybrid ring by pumping JPA 1 and JPA 2 with strong quasi-continuous microwave drives so that they produce squeezed states with the same squeezing level and orthogonal squeezing angles <i>γ</i><sub>2</sub> = <i>γ</i><sub>1</sub> + <i>π</i>/2. These angles are stabilized by controlling the respective pump phases employing a phase-locked loop<sup>27,31</sup>. The stability of these TMS states in terms of two-mode squeezing and symmetry is of paramount importance in our experiments. Only by utilizing the nonclassical correlations between Alice and Bob, it is possible to demonstrate the successful RSP protocol. In order to reconstruct the quantum states in the experiment, we employ a well-tested reference state tomography based on statistical moments of the detected field quadratures<sup>29,30</sup>.</p>
  </div>
  <div style="position:absolute;left:486px;top:77px;font-weight:bold;font-size:17px;letter-spacing:0.6px">Acknowledgments</div>
  <div class="col" style="left:486px;top:98px;height:280px">
    <p class="ni">We acknowledge support by the German Research Foundation through FE 1564/1-1 and the Munich Center for Quantum Science and Technology (MCQST), Elite Network of Bavaria through the program ExQM, EU Flagship project QMiCS and OpenSuperQ, Spanish MINECO/FEDER FIS2015-69983-P, Basque Government Grant No. IT986-16 and PhD Grant No. PRE-2016-1-0284, projects JST ERATO (Grant No. JPMJER1601) and JSPS KAKENHI (Grant No. 26220601 and Grant No. 15K17731). This material is also based upon work supported by the U.S. Department of Energy, Office of Science, Office of Advance Scientific Computing Research (ASCR), under field work proposal number ERKJ335. We would like to thank K. Kusuyama for assistance with part of the JPA fabrication and S. B. Ghaffari for help in early stages of the experiment.</p>
  </div>
  <div style="position:absolute;left:284px;top:406px;width:375px;height:1px;background:#111"></div>
  <div class="refs" style="left:83px;top:440px;height:660px">
    <div><span class="n">*</span><span class="bl">stefan.pogorzalek@wmi.badw.de</span></div>
    <div><span class="n">†</span><span class="bl">kirill.fedorov@wmi.badw.de</span></div>
    <div><span class="n">‡</span><span class="bl">rudolf.gross@wmi.badw.de</span></div>
    <div><span class="n">1</span>Cirac, J. I., Zoller, P., Kimble, H. J. &amp; Mabuchi, H. Quantum state transfer and entanglement distribution among distant nodes in a quantum network. <i>Phys. Rev. Lett.</i> <b>78</b>, 3221–3224 (1997).</div>
    <div><span class="n">2</span>Bennett, C. H. <i>et al.</i> Teleporting an unknown quantum state via dual classical and Einstein-Podolsky-Rosen channels. <i>Phys. Rev. Lett.</i> <b>70</b>, 1895–1899 (1993).</div>
    <div><span class="n">3</span>Bouwmeester, D. <i>et al.</i> Experimental quantum teleportation. <i>Nature</i> <b>390</b>, 575–579 (1997).</div>
    <div><span class="n">4</span>Bennett, C. H. <i>et al.</i> Remote state preparation. <i>Phys. Rev. Lett.</i> <b>87</b>, 077902 (2001).</div>
    <div><span class="n">5</span>Kurucz, Z., Adam, P., Kis, Z. &amp; Janszky, J. Continuous variable remote state preparation. <i>Phys. Rev. A</i> <b>72</b>, 052315 (2005).</div>
    <div><span class="n">6</span>Dakić, B. <i>et al.</i> Quantum discord as resource for remote state preparation. <i>Nat. Phys.</i> <b>8</b>, 666–670 (2012).</div>
    <div><span class="n">7</span>Peters, N. A., Barreiro, J. T., Goggin, M. E., Wei, T.-C. &amp; Kwiat, P. G. Remote State Preparation: Arbitrary Remote Control of Photon Polarization. <i>Phys. Rev. Lett.</i> <b>94</b>, 150502 (2005).</div>
    <div><span class="n">8</span>Ye, M.-Y., Zhang, Y.-S. &amp; Guo, G.-C. Faithful remote state preparation using finite classical bits and a nonmaximally entangled state. <i>Phys. Rev. A</i> <b>69</b>, 022310 (2004).</div>
    <div><span class="n">9</span>Le Jeannic, H., Cavaillès, A., Raskop, J., Huang, K. &amp; Laurat, J. Remote preparation of continuous-variable qubits using loss-tolerant hybrid entanglement of light. <i>Optica</i> <b>5</b>, 1012 (2018).</div>
    <div><span class="n">10</span>Laurat, J., Coudreau, T., Treps, N., Maître, A. &amp; Fabre, C. Conditional Preparation of a Quantum State in the Continuous Variable Regime: Generation of a sub-Poissonian State from Twin Beams. <i>Phys. Rev. Lett.</i> <b>91</b>, 213601 (2003).</div>
    <div><span class="n">11</span>Weedbrook, C. <i>et al.</i> Gaussian quantum information. <i>Rev. Mod. Phys.</i> <b>84</b>, 621–669 (2012).</div>
    <div><span class="n">12</span>Braunstein, S. L. &amp; van Loock, P. Quantum information with continuous variables. <i>Rev. Mod. Phys.</i> <b>77</b>, 513 (2005).</div>
    <div><span class="n">13</span>Jouguet, P., Kunz-Jacques, S., Leverrier, A., Grangier, P. &amp; Diamanti, E. Experimental demonstration of long-</div>
  </div>
  <div class="refs" style="left:486px;top:440px;height:660px">
    <div>distance continuous-variable quantum key distribution. <i>Nat. Photonics</i> <b>7</b>, 378–381 (2013).</div>
    <div><span class="n">14</span>Furusawa, A. Unconditional quantum teleportation. <i>Science</i> <b>282</b>, 706–709 (1998).</div>
    <div><span class="n">15</span>Braunstein, S. L. &amp; Kimble, H. J. Teleportation of Continuous Quantum Variables. <i>Phys. Rev. Lett.</i> <b>80</b>, 869–872 (1998).</div>
    <div><span class="n">16</span>Mattle, K., Weinfurter, H., Kwiat, P. G. &amp; Zeilinger, A. Dense Coding in Experimental Quantum Communication. <i>Phys. Rev. Lett.</i> <b>76</b>, 4656–4659 (1996).</div>
    <div><span class="n">17</span>Heim, B. <i>et al.</i> Atmospheric continuous-variable quantum communication. <i>New J. Phys.</i> <b>16</b>, 113018 (2014).</div>
    <div><span class="n">18</span>Neill, C. <i>et al.</i> A blueprint for demonstrating quantum supremacy with superconducting qubits. <i>Science</i> <b>360</b>, 195–199 (2018).</div>
    <div><span class="n">19</span>Corcoles, A. D. <i>et al.</i> Demonstration of a quantum error detection code using a square lattice of four superconducting qubits. <i>Nat. Commun.</i> <b>6</b>, 6979 (2015).</div>
    <div><span class="n">20</span>Vernam, G. S. Cipher printing telegraph systems for secret wire and radio telegraphic communications. <i>Trans. Am. Inst. Electr. Eng.</i> <b>45</b>, 295–301 (1926).</div>
    <div><span class="n">21</span>Kurpiers, P. <i>et al.</i> Deterministic quantum state transfer and remote entanglement using microwave photons. <i>Nature</i> <b>558</b>, 264–267 (2018).</div>
    <div><span class="n">22</span>Axline, C. J. <i>et al.</i> On-demand quantum state transfer and entanglement between remote microwave cavity memories. <i>Nat. Phys.</i> <b>14</b>, 705–710 (2018).</div>
    <div><span class="n">23</span>Xiang, Z.-L., Zhang, M., Jiang, L. &amp; Rabl, P. Intracity quantum communication via thermal microwave networks. <i>Phys. Rev. X</i> <b>7</b>, 011035 (2017).</div>
    <div><span class="n">24</span>Yamamoto, T. <i>et al.</i> Flux-driven josephson parametric amplifier. <i>Appl. Phys. Lett.</i> <b>93</b>, 042510 (2008).</div>
    <div><span class="n">25</span>Pogorzalek, S. <i>et al.</i> Hysteretic flux response and nondegenerate gain of flux-driven Josephson parametric amplifiers. <i>Phys. Rev. Appl.</i> <b>8</b>, 024012 (2017).</div>
    <div><span class="n">26</span>Goetz, J. <i>et al.</i> Photon statistics of propagating thermal microwaves. <i>Phys. Rev. Lett.</i> <b>118</b>, 103602 (2017).</div>
    <div><span class="n">27</span>Fedorov, K. G. <i>et al.</i> Finite-time quantum entanglement in propagating squeezed microwaves. <i>Sci. Rep.</i> <b>8</b>, 6416 (2018).</div>
    <div><span class="n">28</span>Flurin, E., Roch, N., Mallet, F., Devoret, M. H. &amp; Huard,</div>
  </div>
</div>

<script>
var NS='http://www.w3.org/2000/svg';
function mk(parent,tag,attrs,txt){var e=document.createElementNS(NS,tag);for(var k in attrs)e.setAttribute(k,attrs[k]);if(txt!==undefined)e.textContent=txt;parent.appendChild(e);return e;}

/* ---------- Figure 2a data ---------- */
var gainF=[11.22,11.46,11.69,11.93,12.16,12.41,12.65,12.91,13.17,13.49,13.8,14.12,14.43,14.74,15.08,15.42,15.77,16.1];
var squeezeS=[0.2,0.4,0.8,0.9,1.0,1.1,1.2,1.5,1.3,1.2,1.1,0.9,0.6,0.4,0.0,-0.7,-1.9,-2.4];
var antiA=[7.2,7.1,7.2,7.2,7.2,7.1,7.2,7.1,7.2,7.2,7.1,7.2,7.1,7.1,7.2,7.1,7.0,7.0];
var angleG=[117.4,118.4,116.6,116.4,114.6,114.0,114.0,113.9,112.6,112.0,111.0,110.2,108.3,109.3,106.6,103.2,102.6,100.0];
var fitGain=[11.2,11.8,12.4,13.0,13.6,14.2,14.8,15.4,16.1];
var fitS=[0.15,0.65,1.0,1.15,1.1,0.8,0.3,-0.5,-1.7];
var fitA=[7.2,7.2,7.2,7.2,7.2,7.2,7.2,7.2,7.1];
var fitG=[117.5,116.8,115.8,114.5,112.8,110.7,108.2,105.0,100.8];
var xTicks2a=[11,12,13,14,15,16];
var yTicksL=[8,6,4,2,0,-2,-4];
var yTicksR=[120,115,110,105,100];

(function(){
  var g=document.getElementById('fig2a');
  var X=function(v){return 122+(v-11)*63.8;};
  var YL=function(v){return 89.5+(8-v)*10.58;};
  var YR=function(v){return 97.2+(120-v)*5.2;};
  var fr=mk(g,'rect',{x:122,y:88,width:339,height:130,fill:'#fff',stroke:'#111','stroke-width':1});
  
  
  xTicks2a.forEach(function(t){mk(g,'text',{x:X(t),y:232,'font-size':9,'text-anchor':'middle'},String(t));});
  yTicksL.forEach(function(t){mk(g,'text',{x:118,y:YL(t)+3,'font-size':9,'text-anchor':'end'},String(t));});
  yTicksR.forEach(function(t){mk(g,'text',{x:466,y:YR(t)+3,'font-size':9,fill:'#d03a1a'},String(t));mk(g,'line',{x1:461,x2:456,y1:YR(t),y2:YR(t),stroke:'#d03a1a'});});
  mk(g,'line',{x1:461,x2:461,y1:88,y2:218,stroke:'#d03a1a','stroke-width':1.2});
  var xl=mk(g,'text',{x:270,y:246,'font-size':10,'text-anchor':'middle'},'Gf (dB)');
  
  
  var yl=mk(g,'text',{x:96,y:153,'font-size':10,'text-anchor':'middle',transform:'rotate(-90 96 153)',fill:'#2a6'},'Srp, Arp (dB)');
  
  
  var yr=mk(g,'text',{x:490,y:153,'font-size':10,'text-anchor':'middle',transform:'rotate(-90 490 153)',fill:'#d03a1a'},'γrp (°)');
  
  
  mk(g,'text',{x:128,y:212,'font-size':10,'font-weight':'bold'},'a');
  mk(g,'text',{x:380,y:123,'font-size':9,fill:'#2266cc'},'Arp');
  mk(g,'text',{x:188,y:180,'font-size':9,fill:'#33bb33'},'Srp');
  function line(xs,ys,sc,col){var p=xs.map(function(x,i){return X(x)+','+sc(ys[i]);}).join(' ');var l=mk(g,'polyline',{points:p,fill:'none',stroke:col,'stroke-width':1.3});return l;}
  var la=line(fitGain,fitA,YL,'#2266cc');
  var lg=line(fitGain,fitG,YR,'#d03a1a');
  var ls=line(fitGain,fitS,YL,'#33bb33');
  [12.95,16.1].forEach(function(v,i){
    var dl=mk(g,'line',{x1:X(v),x2:X(v),y1:88,y2:218,stroke:'#111','stroke-width':1.3,'stroke-dasharray':'5 3'});
    
    
    mk(g,'line',{x1:X(v),y1:222,x2:X(v)-56,y2:262,stroke:'#111','stroke-width':1,'stroke-dasharray':'5 3'});
  });
  gainF.forEach(function(v,i){
    var x=X(v);
    var d=mk(g,'polygon',{points:(x)+','+(YL(antiA[i])-4.5)+' '+(x+3.5)+','+YL(antiA[i])+' '+x+','+(YL(antiA[i])+4.5)+' '+(x-3.5)+','+YL(antiA[i]),fill:'#2266cc'});
    
    
    var y=YR(angleG[i]);
    mk(g,'line',{x1:x,x2:x,y1:y-6,y2:y+6,stroke:'#d03a1a'});
    var t=mk(g,'polygon',{points:x+','+(y-4.5)+' '+(x+4)+','+(y+3)+' '+(x-4)+','+(y+3),fill:'#d03a1a'});
    
    
    var c=mk(g,'circle',{cx:x,cy:YL(squeezeS[i]),r:4,fill:'#33bb33'});
    
    
  });
})();

/* ---------- Wigner axes ---------- */
var wigTicks=[-4,-2,0,2,4];
var cbBTicks=[0.3,0.2,0.1,0.0];
var cbCTicks=[0.20,0.15,0.10,0.05,0.00];
(function(){
  var g=document.getElementById('wigAxes');
  [[130,256,cbBTicks,0.32],[329,456,cbCTicks,0.21]].forEach(function(p){
    var x0=p[0];
    wigTicks.forEach(function(t){
      mk(g,'text',{x:x0+(t+4)/8*122,y:397,'text-anchor':'middle'},String(t));
      mk(g,'text',{x:x0-6,y:383-(t+4)/8*121+3,'text-anchor':'end'},String(t));
    });
    mk(g,'text',{x:x0+61,y:410,'text-anchor':'middle'},'p');
    mk(g,'text',{x:x0-25,y:322,'text-anchor':'middle',transform:'rotate(-90 '+(x0-25)+' 322)'},'q');
    p[2].forEach(function(t){mk(g,'text',{x:p[1]+14,y:382-t/p[3]*118+3},t.toFixed(p[3]<0.3?2:1));});
  });
})();

/* ---------- Heatmaps d, e ---------- */
var gammaCols=[-33,-25,-17,-9,-1,7,15,23,31,37];
var gainRows=[16.2,15.7,15.2,14.7,14.2,13.7,13.2,12.7,12.2,11.7];
var srpMap=[
 [1.0,0.8,0.2,-0.8,-1.2,-1.0,-0.6,0.3,-0.5,-1.5],
 [0.8,1.0,0.5,-0.3,-0.6,-0.4,0.0,0.6,-0.3,-1.8],
 [0.5,1.1,0.9,0.5,0.4,0.5,0.7,0.7,-0.2,-2.0],
 [0.0,0.9,1.2,1.0,1.0,1.1,1.0,0.6,-0.6,-2.2],
 [-0.5,0.5,1.2,1.3,1.4,1.5,1.2,0.4,-1.0,-2.3],
 [-1.2,0.0,0.9,1.2,1.5,1.4,1.0,0.0,-1.5,-2.5],
 [-2.0,-0.8,0.3,0.9,1.2,1.1,0.6,-0.6,-2.0,-2.8],
 [-2.6,-1.6,-0.5,0.4,0.8,0.6,0.0,-1.2,-2.5,-3.0],
 [-3.0,-2.3,-1.2,-0.2,0.3,0.2,-0.6,-1.8,-2.8,-3.0],
 [-3.0,-2.8,-2.0,-1.0,-0.4,-0.5,-1.4,-2.5,-3.0,-3.0]];
var gammaMap=[
 [126,127,125,122,118,114,108,102,98,96],
 [127,128,126,123,119,113,107,101,97,95],
 [128,128,126,122,118,112,106,100,96,94],
 [128,127,125,121,117,111,104,99,95,93],
 [127,126,124,120,116,110,103,98,94,92],
 [126,125,123,119,115,109,102,97,93,92],
 [125,124,122,118,114,108,101,96,93,91],
 [124,123,121,117,113,107,100,96,92,91],
 [123,122,120,116,112,106,100,95,92,90],
 [122,121,119,115,111,105,99,95,92,90]];
function ylorRd(t){t=Math.max(0,Math.min(1,t));
  var st=[[0,[255,251,224]],[0.3,[248,213,96]],[0.6,[208,128,30]],[1,[138,26,26]]];
  for(var i=0;i<st.length-1;i++){if(t<=st[i+1][0]){var a=st[i],b=st[i+1],f=(t-a[0])/(b[0]-a[0]);return 'rgb('+[0,1,2].map(function(k){return Math.round(a[1][k]+(b[1][k]-a[1][k])*f);}).join(',')+')';}}
  return 'rgb(138,26,26)';}
(function(){
  function draw(id,map,x0,w,lo,hi){
    var g=document.getElementById(id);
    var cw=w/gammaCols.length, ch=129/gainRows.length;
    map.forEach(function(row,r){row.forEach(function(v,c){
      var cell=mk(g,'rect',{x:x0+c*cw,y:125+r*ch,width:cw+0.6,height:ch+0.6,fill:ylorRd((v-lo)/(hi-lo))});
      
      
    });});
  }
  draw('hmD',srpMap,560,147,-3.2,1.6);
  draw('hmE',gammaMap,707,148,88,132);
  var d=document.getElementById('hmD');
  mk(d,'path',{d:'M570 125 Q585 190 612 220 Q628 240 633 250 M700 125 Q690 180 670 220 Q650 245 640 254',fill:'none',stroke:'#4cc44c','stroke-width':2});
  mk(d,'path',{d:'M598 125 Q610 160 633 165 Q652 160 665 125',fill:'none',stroke:'#4cc44c','stroke-width':2});
})();
var sTicks=[-3,-2,-1,0,1];
var gTicks=[90,100,110,120,130];
var gfTicks=[16,15,14,13,12];
var gfTicks2=[-20,0,20];
(function(){
  var g=document.getElementById('dgAxes');
  mk(g,'rect',{x:563,y:112,width:140,height:9,fill:'url(#cbS)',stroke:'#111'});
  mk(g,'rect',{x:711,y:112,width:140,height:9,fill:'url(#cbS)',stroke:'#111'});
  sTicks.forEach(function(t){mk(g,'text',{x:575+(t+3)*26.5,y:108,'font-size':9,'text-anchor':'middle'},String(t));});
  gTicks.forEach(function(t){mk(g,'text',{x:717+(t-90)*3.28,y:108,'font-size':9,'text-anchor':'middle'},String(t));});
  mk(g,'text',{x:630,y:88,'font-size':10,'text-anchor':'middle'},'Srp (dB)');
  mk(g,'text',{x:778,y:88,'font-size':10,'text-anchor':'middle'},'γrp (°)');
  mk(g,'rect',{x:560,y:125,width:295,height:258,fill:'none',stroke:'#111','stroke-width':1.5});
  mk(g,'line',{x1:707,x2:707,y1:125,y2:383,stroke:'#111','stroke-width':1.5});
  mk(g,'line',{x1:560,x2:855,y1:254,y2:254,stroke:'#111','stroke-width':1.5});
  [633,780].forEach(function(x){mk(g,'line',{x1:x,x2:x,y1:125,y2:383,stroke:'#111','stroke-width':1,'stroke-dasharray':'1.5 1.5'});});
  gfTicks.forEach(function(t){
    mk(g,'text',{x:552,y:131.6+(16-t)*25.4+3,'font-size':9,'text-anchor':'end'},String(t));
    mk(g,'text',{x:552,y:261+(16-t)*25+3,'font-size':9,'text-anchor':'end'},String(t));
  });
  gfTicks2.forEach(function(t){
    mk(g,'text',{x:633+t*1.97,y:396,'font-size':9,'text-anchor':'middle'},String(t));
    mk(g,'text',{x:780.5+t*2.0,y:396,'font-size':9,'text-anchor':'middle'},String(t));
  });
  mk(g,'text',{x:633,y:411,'font-size':9,'text-anchor':'middle'},'γf (°)');
  mk(g,'text',{x:780,y:411,'font-size':9,'text-anchor':'middle'},'γf (°)');
  mk(g,'text',{x:530,y:190,'font-size':10,'text-anchor':'middle',transform:'rotate(-90 530 190)'},'Gf (dB)');
  mk(g,'text',{x:530,y:318,'font-size':10,'text-anchor':'middle',transform:'rotate(-90 530 318)'},'Gf (dB)');
  ['d','e','f','g'].forEach(function(l,i){mk(g,'text',{x:(i%2?845:697),y:(i<2?250:379),'font-size':11,'font-weight':'bold'},l);});
  [633,780].forEach(function(x){var s=mk(g,'text',{x:x,y:212,'font-size':13,fill:'#2277dd','text-anchor':'middle'},'★');});
})();

/* ---------- Figure 3 scatter ---------- */
var scatterS=[-3.0,-2.85,-2.7,-2.45,-2.3,-2.05,-1.95,-1.85,-1.6,-1.5,-1.35,-1.25,-1.2,-1.0,-0.95,-0.85,-0.7,-0.6,-0.5,-0.4,-0.35,-0.2,-1.0,-1.2,-0.8,
 -3.2,-2.95,-2.85,-2.7,-2.55,-2.4,-2.3,-2.2,-2.0,-1.9,-1.75,-1.65,-1.6,-1.55,-1.5,-1.35,-1.25,-1.15,-1.05,-0.95,-0.85,-0.75,-0.65,-0.55,-0.45,-0.35,-0.25,-0.15,-0.6,-0.9,-1.3,-2.3,-1.8,-0.5,-0.2,-2.05,-1.05,
 0.1,0.3,0.6,0.9,1.2,1.5,0.2,0.5,0.8,1.1,1.4,1.7,0.15,0.4,0.7,1.0,1.3,1.6,1.5,0.25,0.55,0.85,1.15,1.45,1.65,0.1,0.35,0.65,0.95,1.25,1.55,0.2,0.5,0.8,1.1,1.4,0.3,0.6,0.9,1.2,0.1,0.4,0.7,1.0,0.2,0.5,0.8,1.1,0.05,1.7,0.15];
var scatterGamma=[127,127.5,127,126.5,126.5,126.5,126.5,126.5,126,126.5,127,125.5,127,127,126,125,126,125.5,127,125,126,126.5,123.5,130,127.5,
 113,108,110,107,106,108,103,106,106,103,104,100,98,96,102,104,104,103,106,105,102,108,110,104,106,112,110,101,98,99,93,115,110,114,115,102,101,
 130,129,128,127,127,128,126,125,124,123,124,122,122,121,120,119,118,117,119,117,116,115,114,113,114,113,112,111,110,109,110,108,107,106,105,104,103,102,101,100,99,98,97,96,95,94,93,92,104,127,92.5];
var scatterMu=[.26,.26,.27,.28,.27,.28,.3,.29,.31,.32,.32,.33,.34,.33,.35,.37,.39,.4,.38,.41,.42,.4,.36,.32,.36,
 .3,.25,.26,.26,.26,.27,.26,.27,.28,.28,.29,.27,.27,.28,.3,.31,.32,.33,.33,.35,.35,.37,.39,.36,.4,.42,.43,.4,.35,.33,.3,.3,.3,.42,.43,.27,.31,
 .42,.44,.45,.46,.45,.47,.44,.47,.48,.49,.5,.51,.45,.48,.5,.52,.53,.53,.54,.47,.49,.51,.52,.53,.53,.45,.47,.48,.5,.5,.51,.44,.46,.47,.48,.48,.42,.44,.45,.46,.4,.42,.43,.44,.38,.4,.41,.42,.42,.52,.38];
var muTicks=[0.25,0.30,0.35,0.40,0.45,0.50];
var sTopTicks=[-3,-2,-1,0,1,2];
var sBotTicks=[-2,-1,0,1,2];
var gamma3Ticks=[130,120,110,100,90];
function muColor(m){var t=(m-0.22)/(0.57-0.22);t=Math.max(0,Math.min(1,t));
  var st=[[0,[122,16,16]],[0.2,[176,58,26]],[0.4,[212,112,28]],[0.6,[234,164,36]],[0.8,[246,212,74]],[1,[255,252,232]]];
  for(var i=0;i<st.length-1;i++){if(t<=st[i+1][0]){var a=st[i],b=st[i+1],f=(t-a[0])/(b[0]-a[0]);return 'rgb('+[0,1,2].map(function(k){return Math.round(a[1][k]+(b[1][k]-a[1][k])*f);}).join(',')+')';}}
  return 'rgb(255,252,232)';}
(function(){
  var g=document.getElementById('fig3g');
  var XS=function(s){return 727+s*53.4;};
  var YG=function(v){return 676+(130-v)*3.94;};
  mk(g,'rect',{x:535,y:624,width:301,height:13,fill:'url(#cbMu)',stroke:'#111'});
  muTicks.forEach(function(t){mk(g,'text',{x:547+(t-0.25)*1005,y:620,'font-size':9,'text-anchor':'middle'},t.toFixed(2));});
  mk(g,'text',{x:685,y:607,'font-size':9,'font-style':'italic'},'μ');
  mk(g,'rect',{x:535,y:656,width:299,height:189,fill:'#fff',stroke:'#111'});
  var grey=mk(g,'rect',{x:XS(0),y:660,width:96,height:185,fill:'#cccccc'});
  
  
  [-3,-2,-1,0,1].forEach(function(s){mk(g,'line',{x1:XS(s),x2:XS(s),y1:656,y2:845,stroke:'#ddd'});});
  gamma3Ticks.forEach(function(v){mk(g,'line',{x1:535,x2:834,y1:YG(v),y2:YG(v),stroke:'#ddd'});
    mk(g,'text',{x:530,y:YG(v)+3,'font-size':9,'text-anchor':'end'},String(v));
    mk(g,'text',{x:842,y:YG(v)+3,'font-size':9},String(v));});
  sTopTicks.forEach(function(s){mk(g,'text',{x:XS(s),y:651,'font-size':9,'text-anchor':'middle'},String(s));});
  sBotTicks.forEach(function(s){mk(g,'text',{x:XS(s),y:866,'font-size':9,'text-anchor':'middle'},String(s));});
  mk(g,'text',{x:690,y:882,'font-size':10},'Srp (dB)');
  mk(g,'text',{x:500,y:750,'font-size':10,'text-anchor':'middle',transform:'rotate(-90 500 750)'},'γrp (°)');
  scatterS.forEach(function(s,i){
    var p=mk(g,'circle',{cx:XS(s),cy:YG(scatterGamma[i]),r:2.6,fill:muColor(scatterMu[i])});
    
    
  });
  var st=mk(g,'text',{x:XS(1.65),y:YG(113.5)+5,'font-size':14,fill:'#fff','text-anchor':'middle'},'★');
  
  
  var ins=mk(g,'rect',{x:521,y:804,width:79,height:83,fill:'#fff',stroke:'#111'});
  
  
  mk(g,'circle',{cx:560,cy:845,r:21,fill:'#dddddd',stroke:'#aaa'});
  mk(g,'ellipse',{cx:560,cy:845,rx:20,ry:37,transform:'rotate(-30 560 845)',fill:'none',stroke:'#33bb33','stroke-width':1.3});
  mk(g,'ellipse',{cx:560,cy:845,rx:18,ry:27,transform:'rotate(-30 560 845)',fill:'none',stroke:'#d03a1a','stroke-width':1.3});
  [[-1,'-1'],[0,'0'],[1,'1']].forEach(function(t){mk(g,'text',{x:560+t[0]*25,y:898,'font-size':9,'text-anchor':'middle'},t[1]);mk(g,'text',{x:515,y:845-t[0]*25+3,'font-size':9,'text-anchor':'end'},t[1]);});
  mk(g,'text',{x:560,y:910,'font-size':9,'text-anchor':'middle'},'p');
  mk(g,'text',{x:500,y:845,'font-size':9,'text-anchor':'middle',transform:'rotate(-90 500 845)'},'q');
  mk(g,'line',{x1:604,x2:618,y1:876,y2:876,stroke:'#33bb33','stroke-width':1.3});mk(g,'text',{x:620,y:879,'font-size':8},'Exp.');
  mk(g,'line',{x1:604,x2:618,y1:888,y2:888,stroke:'#d03a1a','stroke-width':1.3});mk(g,'text',{x:620,y:891,'font-size':8},'Pure');
})();

/* ---------- Figure 4b surface ---------- */
var surfGamma=[-25,-15,-5,5,15,25];
var surfGain=[17,16,15,14,13];
var deltaMap=[
 [0.42,0.36,0.32,0.30,0.32,0.34],
 [0.50,0.34,0.22,0.20,0.24,0.30],
 [0.58,0.30,0.14,0.10,0.16,0.26],
 [0.62,0.28,0.10,0.06,0.12,0.22],
 [0.55,0.26,0.12,0.08,0.14,0.24]];
var deltaTicks=[0.6,0.5,0.4,0.3,0.2,0.1,0.0];
function dColor(v){var t=v/0.62;var st=[[0,[255,251,232]],[0.3,[247,220,112]],[0.5,[239,190,36]],[0.75,[199,112,30]],[1,[138,26,26]]];
  t=Math.max(0,Math.min(1,t));for(var i=0;i<st.length-1;i++){if(t<=st[i+1][0]){var a=st[i],b=st[i+1],f=(t-a[0])/(b[0]-a[0]);return 'rgb('+[0,1,2].map(function(k){return Math.round(a[1][k]+(b[1][k]-a[1][k])*f);}).join(',')+')';}}return 'rgb(138,26,26)';}
(function(){
  var g=document.getElementById('surf');
  function P(gm,gf,d){
    var u=(gm+25)/50, w=(gf-13)/4;
    var x=133+u*165+w*64, y=398+u*60-w*116 - d*108;
    return [x,y];}
  for(var r=0;r<surfGain.length-1;r++){for(var c=0;c<surfGamma.length-1;c++){
    var a=P(surfGamma[c],surfGain[r],deltaMap[r][c]),b=P(surfGamma[c+1],surfGain[r],deltaMap[r][c+1]),
        cc=P(surfGamma[c+1],surfGain[r+1],deltaMap[r+1][c+1]),d=P(surfGamma[c],surfGain[r+1],deltaMap[r+1][c]);
    var avg=(deltaMap[r][c]+deltaMap[r][c+1]+deltaMap[r+1][c+1]+deltaMap[r+1][c])/4;
    var q=mk(g,'polygon',{points:[a,b,cc,d].map(function(p){return p[0].toFixed(1)+','+p[1].toFixed(1);}).join(' '),fill:dColor(avg),stroke:dColor(avg),'stroke-width':0.6});
    
    
  }}
  var s=P(5,14.5,0.06);
  var star=mk(g,'text',{x:s[0],y:s[1]+4,'font-size':12,fill:'#2277dd','text-anchor':'middle'},'★');
  
  
  var t=document.getElementById('cbDticks');
  deltaTicks.forEach(function(v){mk(t,'text',{x:418,y:422-v/0.62*174+3},v.toFixed(1));});
})();
</script>
</body></html>
